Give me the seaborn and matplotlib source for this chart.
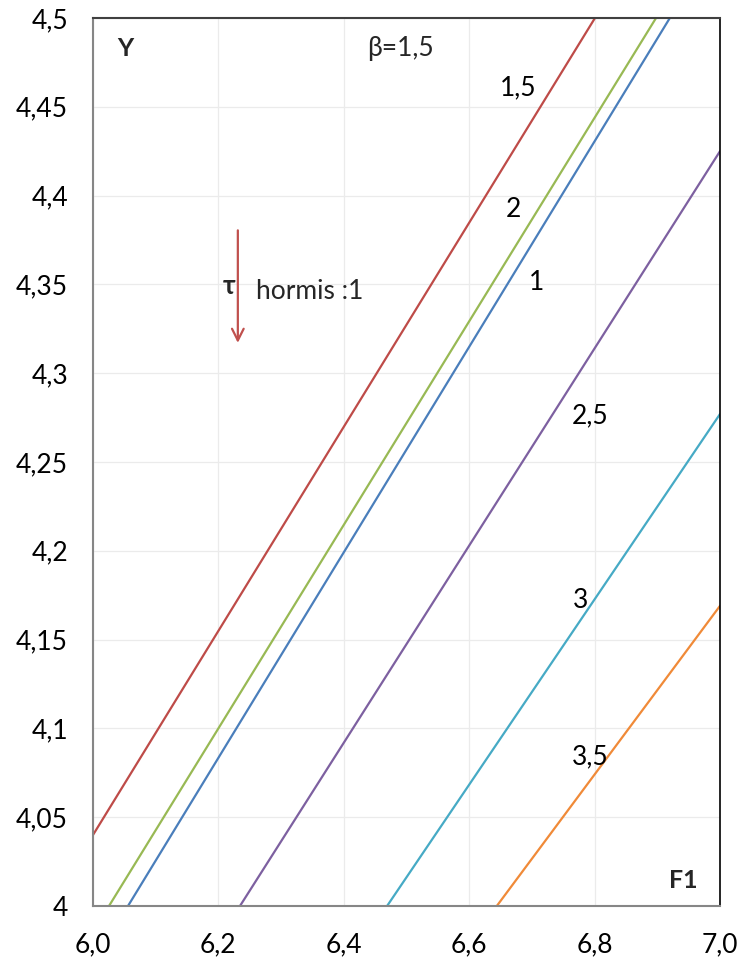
import matplotlib
matplotlib.use("Agg")
import matplotlib.pyplot as plt
import matplotlib.ticker as mticker
import numpy as np
import pandas as pd
import seaborn as sns

# Curve labels (tau values) and the two end points of each straight line
tau_labels = ["1,5", "2", "1", "2,5", "3", "3,5"]
x_start = [6.000, 6.0255, 6.0558, 6.2344, 6.469, 6.644]
y_start = [4.040, 4.000, 4.000, 4.000, 4.000, 4.000]
x_end = [6.8006, 6.898, 6.920, 7.000, 7.000, 7.000]
y_end = [4.500, 4.500, 4.500, 4.425, 4.277, 4.169]

line_colors = ["#BE4B48", "#98B954", "#4A7EBB", "#7D60A0", "#46AAC5", "#F08A38"]

# Positions of the curve labels
label_x = [6.678, 6.671, 6.708, 6.793, 6.777, 6.793]
label_y = [4.4606, 4.392, 4.351, 4.276, 4.172, 4.084]

x_ticks = [6.0, 6.2, 6.4, 6.6, 6.8, 7.0]
y_ticks = [4.0, 4.05, 4.1, 4.15, 4.2, 4.25, 4.3, 4.35, 4.4, 4.45, 4.5]

rows = []
for lab, xs, ys, xe, ye in zip(tau_labels, x_start, y_start, x_end, y_end):
    rows.append({"tau": lab, "F1": xs, "Y": ys})
    rows.append({"tau": lab, "F1": xe, "Y": ye})
df = pd.DataFrame(rows)

sns.set_theme(style="white")
plt.rcParams["font.family"] = ["Lato", "DejaVu Sans"]

fig = plt.figure(figsize=(7.43, 9.71), dpi=100)
ax = fig.add_axes([93 / 743, 1 - 906 / 971, (720 - 93) / 743, (906 - 18) / 971])

sns.lineplot(data=df, x="F1", y="Y", hue="tau", hue_order=tau_labels,
             palette=line_colors, sort=False, estimator=None, units="tau",
             linewidth=1.6, legend=False, ax=ax)

ax.set_xlim(6.0, 7.0)
ax.set_ylim(4.0, 4.5)
ax.set_xticks(x_ticks)
ax.set_yticks(y_ticks)


def comma_fmt(decimals=None):
    def f(v, pos):
        if decimals is None:
            s = f"{v:.2f}".rstrip("0").rstrip(".")
        else:
            s = f"{v:.{decimals}f}"
        return s.replace(".", ",")
    return mticker.FuncFormatter(f)


ax.xaxis.set_major_formatter(comma_fmt(1))
ax.yaxis.set_major_formatter(comma_fmt())
ax.set_xlabel("")
ax.set_ylabel("")

ax.grid(True, color="#EBEBEB", linewidth=0.9)
ax.set_axisbelow(True)

for side in ["left", "bottom"]:
    ax.spines[side].set_color("#868686")
    ax.spines[side].set_linewidth(1.5)
ax.spines["top"].set_color("#404040")
ax.spines["top"].set_linewidth(1.5)
ax.spines["right"].set_color("#000000")
ax.spines["right"].set_linewidth(1.2)

ax.tick_params(axis="both", which="major", direction="out", length=6,
               width=1.5, color="#868686", labelsize=19, labelcolor="#000000")
ax.tick_params(axis="x", pad=13)
ax.tick_params(axis="y", pad=12)

for lab, lx, ly in zip(tau_labels, label_x, label_y):
    ax.text(lx, ly, lab, fontsize=19, ha="center", va="center", color="#000000")

ax.text(6.051, 4.483, "Y", fontsize=18, fontweight="bold", ha="center", va="center")
ax.text(6.490, 4.483, "\u03b2=1,5", fontsize=19, ha="center", va="center")
ax.text(6.941, 4.0146, "F1", fontsize=18, fontweight="bold", ha="center", va="center")
ax.text(6.217, 4.349, "\u03c4", fontsize=19, fontweight="bold", ha="center", va="center")
ax.text(6.260, 4.346, "hormis :1", fontsize=19, ha="left", va="center")

ax.annotate("", xy=(6.231, 4.3155), xytext=(6.231, 4.382),
            arrowprops=dict(arrowstyle="->,head_length=0.7,head_width=0.35",
                            color="#C0504D", lw=1.6))

fig.savefig("out.png", dpi=100)
